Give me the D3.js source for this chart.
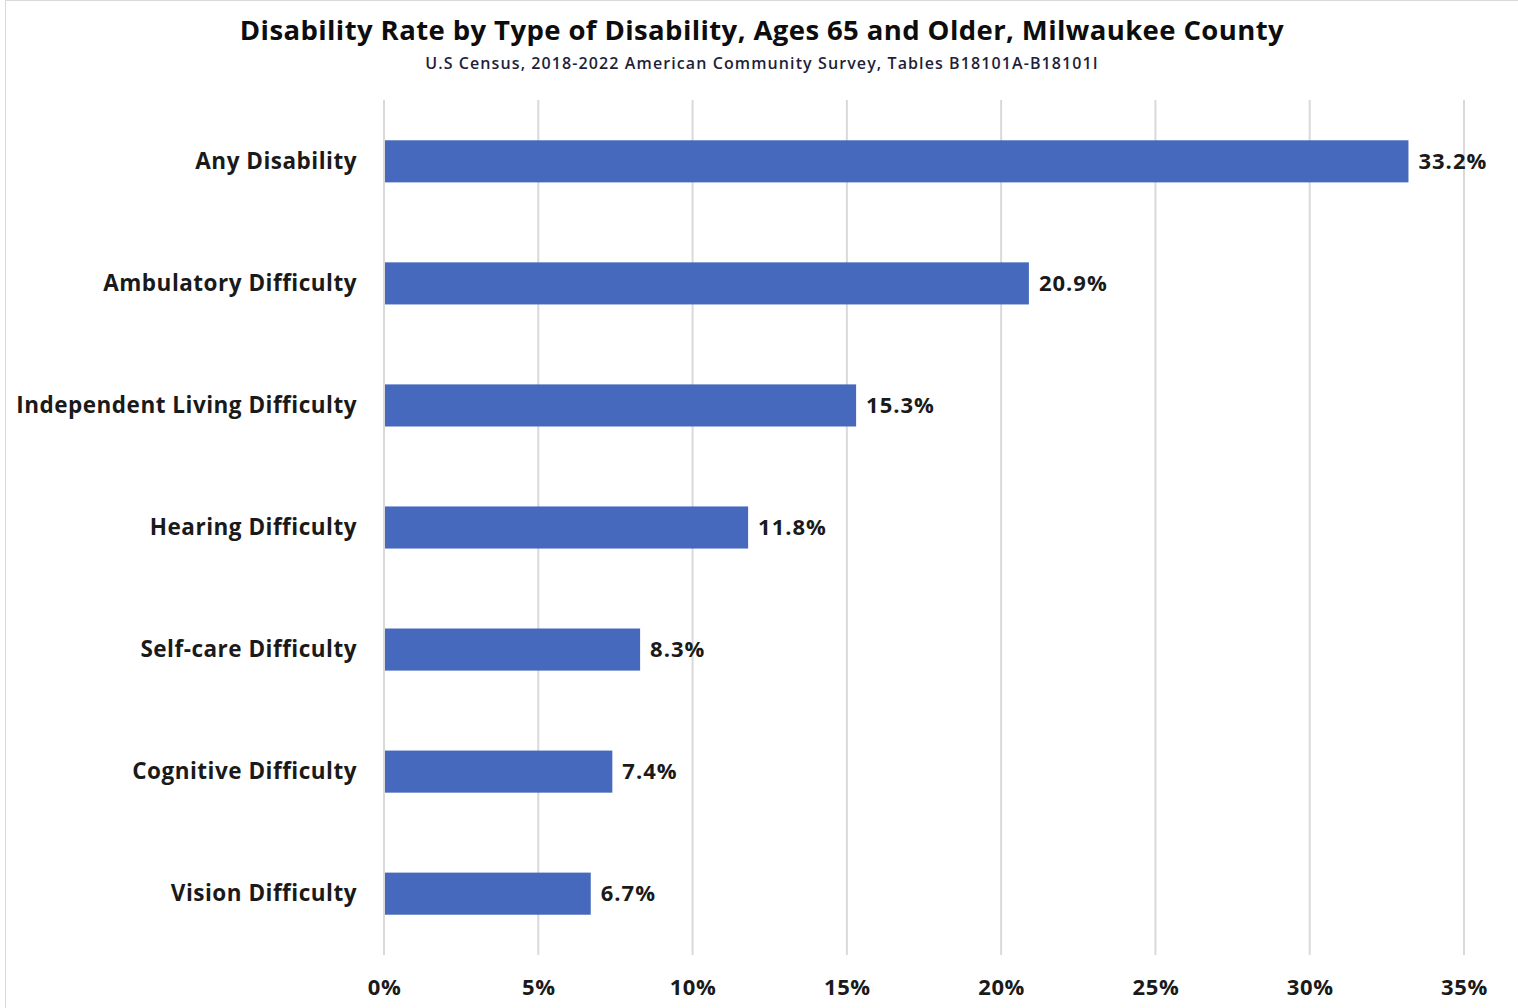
<!DOCTYPE html>
<html>
<head>
<meta charset="utf-8">
<script src="https://cdn.jsdelivr.net/npm/d3@7"></script>
<style>
  body { margin: 0; background: #fff; }
  svg text { font-family: "Open Sans", Lato, sans-serif; }
</style>
</head>
<body>
<div id="chart"></div>
<script>
// data
const categories = [
  "Any Disability",
  "Ambulatory Difficulty",
  "Independent Living Difficulty",
  "Hearing Difficulty",
  "Self-care Difficulty",
  "Cognitive Difficulty",
  "Vision Difficulty"
];
const rates = [33.2, 20.9, 15.3, 11.8, 8.3, 7.4, 6.7];
const xTicks = [0, 5, 10, 15, 20, 25, 30, 35];

const width = 1518, height = 1008;
const margin = { top: 100, right: 54, bottom: 53, left: 384 };
const font = "'Open Sans', Lato, sans-serif";

const svg = d3.select("#chart").append("svg")
  .attr("width", width)
  .attr("height", height);

// chart frame
svg.append("rect")
  .attr("x", 5.5).attr("y", 0.5)
  .attr("width", width + 10).attr("height", height + 10)
  .attr("fill", "none")
  .attr("stroke", "#d9d9d9");

const x = d3.scaleLinear()
  .domain([0, 35])
  .range([margin.left, width - margin.right]);

const y = d3.scaleBand()
  .domain(categories)
  .range([margin.top, height - margin.bottom])
  .paddingInner(0.655)
  .paddingOuter(0.33);

// title
svg.append("text")
  .attr("x", 762).attr("y", 40)
  .attr("text-anchor", "middle")
  .attr("font-size", 27.5)
  .attr("font-weight", "bold")
  .attr("letter-spacing", 0.4)
  .attr("fill", "#0d0d0d")
  .text("Disability Rate by Type of Disability, Ages 65 and Older, Milwaukee County");

svg.append("text")
  .attr("x", 762).attr("y", 69)
  .attr("text-anchor", "middle")
  .attr("font-size", 16)
  .attr("font-weight", 600)
  .attr("letter-spacing", 1.1)
  .attr("fill", "#1f1f3a")
  .text("U.S Census, 2018-2022 American Community Survey, Tables B18101A-B18101I");

// gridlines
svg.append("g")
  .selectAll("line")
  .data(xTicks)
  .join("line")
  .attr("x1", d => x(d)).attr("x2", d => x(d))
  .attr("y1", margin.top).attr("y2", height - margin.bottom)
  .attr("stroke", "#d9d9d9")
  .attr("stroke-width", 2);

// x axis labels
const xAxis = d3.axisBottom(x)
  .tickValues(xTicks)
  .tickFormat(d => d + "%")
  .tickSize(0)
  .tickPadding(0);

svg.append("g")
  .attr("transform", `translate(0,${height - margin.bottom + 24})`)
  .call(xAxis)
  .call(g => g.select(".domain").remove())
  .call(g => g.selectAll("text")
    .attr("font-size", 22)
    .attr("font-weight", "bold")
    .attr("letter-spacing", 0.6)
    .attr("fill", "#1a1a1a")
    .attr("font-family", font));

// y axis labels
const yAxis = d3.axisLeft(y).tickSize(0).tickPadding(27);
svg.append("g")
  .attr("transform", `translate(${margin.left},0)`)
  .call(yAxis)
  .call(g => g.select(".domain").remove())
  .call(g => g.selectAll("text")
    .attr("font-size", 22.5)
    .attr("font-weight", "bold")
    .attr("letter-spacing", 0.5)
    .attr("fill", "#1a1a1a")
    .attr("font-family", font));

// bars
const rows = categories.map((c, i) => ({ cat: c, val: rates[i] }));

svg.append("g")
  .selectAll("rect")
  .data(rows)
  .join("rect")
  .attr("x", x(0) + 1)
  .attr("y", d => y(d.cat))
  .attr("width", d => x(d.val) - x(0) - 1)
  .attr("height", y.bandwidth())
  .attr("fill", "#4769bd");

// value labels
svg.append("g")
  .selectAll("text")
  .data(rows)
  .join("text")
  .attr("x", d => x(d.val) + 10)
  .attr("y", d => y(d.cat) + y.bandwidth() / 2)
  .attr("dy", "0.35em")
  .attr("font-size", 22)
  .attr("font-weight", "bold")
  .attr("letter-spacing", 1)
  .attr("fill", "#1a1a1a")
  .text(d => d.val.toFixed(1) + "%");
</script>
</body>
</html>
